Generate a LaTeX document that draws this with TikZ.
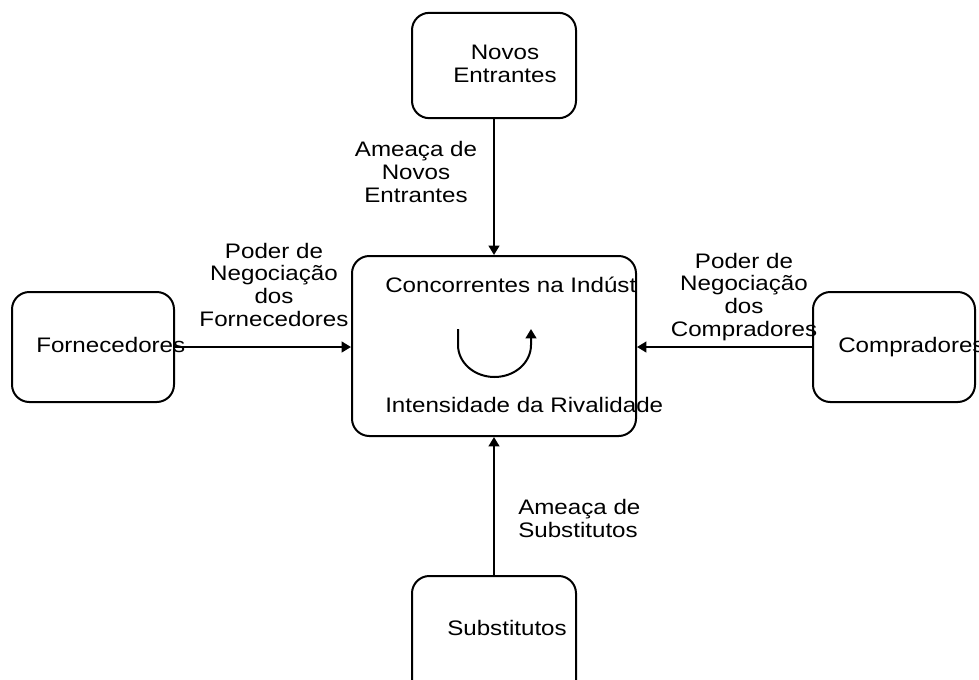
\documentclass[tikz,border=0pt]{standalone}
\usepackage{fontspec}
\setmainfont{Liberation Sans}[FakeStretch=1.15]
\usetikzlibrary{arrows.meta}

\begin{document}
\begin{tikzpicture}[x=0.75pt,y=-0.75pt,
	caixa/.style={draw,line width=1.5pt,rounded corners=13pt,inner sep=0pt},
	seta/.style={line width=1.5pt,-{Triangle[length=7pt,width=8pt]}},
	rotulo/.style={inner sep=0pt,font=\fontsize{15.75}{17}\selectfont}]
\useasboundingbox (0,0) rectangle (979,679);
% caixas
\node[caixa,minimum width=123pt,minimum height=79pt] (novos) at (494,65.5) {};
\node[caixa,minimum width=213pt,minimum height=135pt] (conc) at (494,346) {};
\node[caixa,minimum width=121.5pt,minimum height=82.5pt] (forn) at (93,347) {};
\node[caixa,minimum width=121.5pt,minimum height=82.5pt] (comp) at (894,347) {};
\node[caixa,minimum width=123pt,minimum height=97.5pt] (subs) at (494,641) {};
% textos das caixas
\node[rotulo,align=center,anchor=base] (tnovos) at (505,82) {Novos\\Entrantes};
\node[rotulo,anchor=base west] (tforn) at (36,352) {Fornecedores};
\node[rotulo,anchor=base west] (tcomp) at (838,352) {Compradores};
\node[rotulo,anchor=base west] (tsubs) at (447,635) {Substitutos};
	\begin{scope}
	\clip (352,256) rectangle (636,436);
	\node[rotulo,anchor=base west] (tconc) at (385,292) {Concorrentes na Indústria};
	\end{scope}
\node[rotulo,anchor=base west] (triv) at (385,412) {Intensidade da Rivalidade};
% setas
\draw[seta] (novos.south) -- (conc.north);
\draw[seta] (subs.north) -- (conc.south);
\draw[seta] (forn.east) -- (forn.east -| conc.west);
\draw[seta] (comp.west) -- (comp.west -| conc.east);
\draw[seta] (458,329) -- (458,345) arc (180:0:36.5 and 32) -- (531,329);
% rotulos das setas
\node[rotulo,align=center,anchor=base] (lnovos) at (416,202) {Ameaça de\\Novos\\Entrantes};
\node[rotulo,align=center,anchor=base] (lforn) at (274,326) {Poder de\\Negociação\\dos\\Fornecedores};
\node[rotulo,align=center,anchor=base] (lcomp) at (744,336) {Poder de\\Negociação\\dos\\Compradores};
\node[rotulo,align=left,anchor=base west] (lsubs) at (518,537) {Ameaça de\\Substitutos};
\end{tikzpicture}
\end{document}
